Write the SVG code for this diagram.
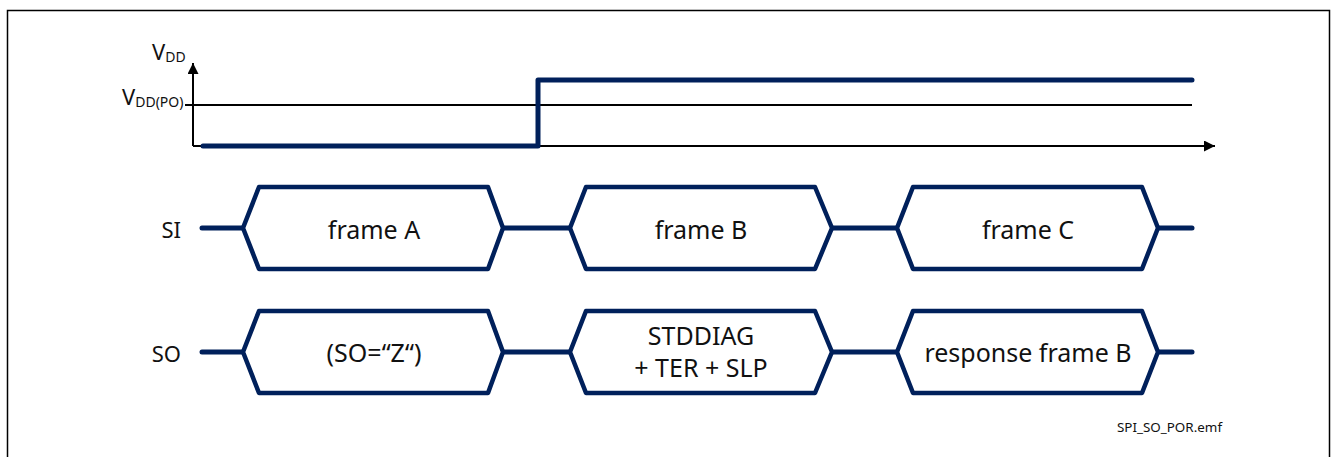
<svg xmlns="http://www.w3.org/2000/svg" width="1332" height="457" viewBox="0 0 1332 457">
<style>
.frame{fill:none;stroke:#000;stroke-width:1.5}
.axis{fill:none;stroke:#000;stroke-width:2}
.sig{fill:none;stroke:#00205B;stroke-width:5;stroke-linecap:round;stroke-linejoin:round}
.hex{fill:#fff;stroke:#00205B;stroke-width:4.5;stroke-linejoin:round}
.t{font-family:"Noto Sans","Liberation Sans",sans-serif;fill:#111}
.lbl{font-size:25px;text-anchor:middle}
.side{font-size:22px;text-anchor:end}
</style>
<defs>
<marker id="arr" viewBox="0 0 10 10" refX="10" refY="5" markerWidth="11" markerHeight="11" markerUnits="userSpaceOnUse" orient="auto">
<path d="M0,0 L10,5 L0,10 z" fill="#000"/>
</marker>
</defs>
<rect class="frame" x="7.5" y="10.5" width="1322" height="470"/>
<g id="axes">
<line class="axis" x1="193" y1="146" x2="193" y2="63" marker-end="url(#arr)"/>
<line class="axis" x1="193" y1="146" x2="1215" y2="146" marker-end="url(#arr)"/>
<line class="axis" x1="185" y1="105" x2="1192" y2="105"/>
<text class="t" x="152" y="60" font-size="22">V<tspan font-size="14" dy="2">DD</tspan></text>
<text class="t" x="122" y="105" font-size="22">V<tspan font-size="14" dy="2">DD(PO)</tspan></text>
</g>
<g id="vdd-signal">
<polyline class="sig" points="203,146 538,146 538,80 1192,80"/>
</g>
<g id="connectors">
<line class="sig" x1="202" y1="228" x2="243" y2="228"/>
<line class="sig" x1="503" y1="228" x2="570" y2="228"/>
<line class="sig" x1="832" y1="228" x2="897" y2="228"/>
<line class="sig" x1="1158" y1="228" x2="1192" y2="228"/>
<line class="sig" x1="202" y1="352" x2="243" y2="352"/>
<line class="sig" x1="503" y1="352" x2="570" y2="352"/>
<line class="sig" x1="832" y1="352" x2="897" y2="352"/>
<line class="sig" x1="1158" y1="352" x2="1192" y2="352"/>
</g>
<g id="label-SI"><text class="t side" x="181" y="238">SI</text></g>
<g id="label-SO"><text class="t side" x="181" y="362">SO</text></g>
<g id="si-frameA">
<polygon class="hex" points="243,228 259,187 488,187 503,228 488,269 259,269"/>
<text class="t lbl" x="374" y="239">frame A</text>
</g>
<g id="si-frameB">
<polygon class="hex" points="570,228 586,187 815,187 832,228 815,269 586,269"/>
<text class="t lbl" x="701" y="239">frame B</text>
</g>
<g id="si-frameC">
<polygon class="hex" points="897,228 913,187 1142,187 1158,228 1142,269 913,269"/>
<text class="t lbl" x="1028" y="239">frame C</text>
</g>
<g id="so-frameA">
<polygon class="hex" points="243,352 259,311 488,311 503,352 488,393 259,393"/>
<text class="t lbl" x="374" y="362">(SO=“Z“)</text>
</g>
<g id="so-frameB">
<polygon class="hex" points="570,352 586,311 815,311 832,352 815,393 586,393"/>
<text class="t lbl" x="701" y="345">STDDIAG</text>
<text class="t lbl" x="701" y="377">+ TER + SLP</text>
</g>
<g id="so-frameC">
<polygon class="hex" points="897,352 913,311 1142,311 1158,352 1142,393 913,393"/>
<text class="t lbl" x="1028" y="362">response frame B</text>
</g>
<text class="t" x="1117" y="432" font-size="12" textLength="105" lengthAdjust="spacingAndGlyphs">SPI_SO_POR.emf</text>
</svg>
